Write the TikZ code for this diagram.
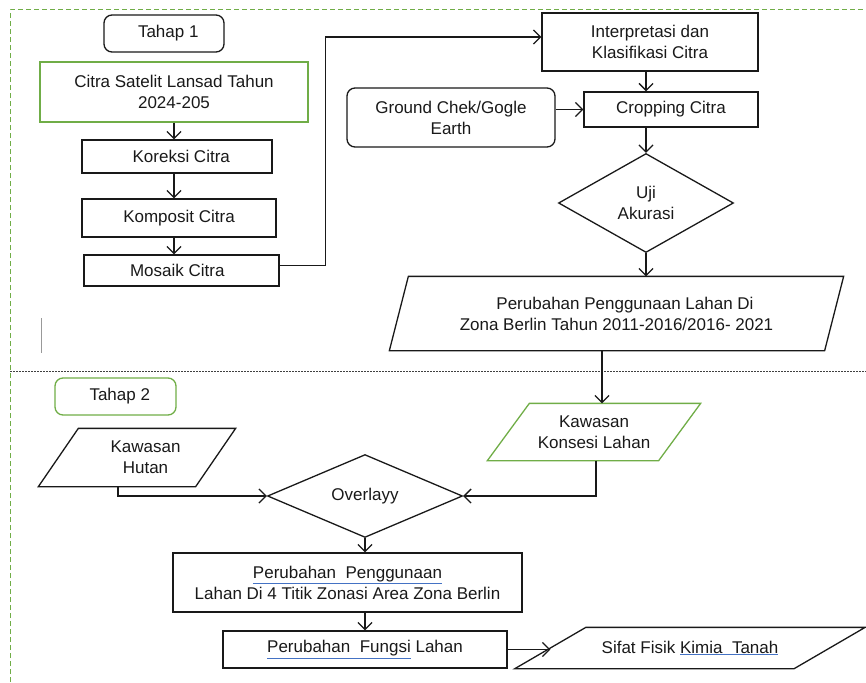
\documentclass[tikz,border=0pt]{standalone}
\usepackage{fontspec}
\setmainfont{Liberation Sans}
\usetikzlibrary{shapes.geometric,arrows.meta}
\definecolor{boxgreen}{RGB}{112,173,71}
\definecolor{spellblue}{RGB}{68,114,196}
\tikzstyle{flow-box} = [draw=black!90, line width=1.3pt, rectangle, inner sep=2pt,
    align=center, text=black!90, font=\fontsize{17}{21}\selectfont]
\tikzstyle{green-box} = [flow-box, draw=boxgreen]
\tikzstyle{round-box} = [flow-box, rounded corners=8pt]
\tikzstyle{data-box} = [flow-box, draw=none]
\tikzstyle{check-box} = [flow-box, diamond, inner sep=0pt]
\tikzstyle{flow-arrow} = [line width=1.3pt, draw=black!90, -{Straight Barb[length=7pt,width=14pt]}]
\newcommand{\spellmark}[1]{{\color{spellblue}\underline{\color{black!90}#1}}}
\newcommand{\slantframe}[3]{\draw[line width=1.3pt, draw=#3]
    ([xshift=#2]#1.north west) -- ([xshift=#2]#1.north east) --
    ([xshift=-#2]#1.south east) -- ([xshift=-#2]#1.south west) -- cycle;}

\begin{document}
\begin{tikzpicture}[x=1pt, y=-1pt]
\useasboundingbox (0,0) rectangle (866,682);
% frames
\draw[boxgreen, line width=1pt, dash pattern=on 5pt off 3pt] (10,682) -- (10,10) -- (866,10);
\draw[black!75, line width=1pt, dash pattern=on 2pt off 1pt] (10,371) -- (866,371);
\draw[black!40, line width=1pt] (41,318) -- (41,353);

% tahap 1
\node[round-box, minimum width=120pt, minimum height=37pt] (tahap-a) at (164,33.5) {\enspace Tahap 1};
\node[green-box, minimum width=268pt, minimum height=60pt] (citra) at (174,92) {Citra Satelit Lansad Tahun\\2024-205};
\node[flow-box, minimum width=190pt, minimum height=33pt] (koreksi) at (177,156.5) {\enspace Koreksi Citra};
\node[flow-box, minimum width=194pt, minimum height=38pt] (komposit) at (179,218) {Komposit Citra};
\node[flow-box, minimum width=195pt, minimum height=31pt] (mosaik) at (181.5,270.5) {Mosaik Citra\enspace};
\node[flow-box, minimum width=216pt, minimum height=58pt] (interp) at (650,42) {Interpretasi dan\\Klasifikasi Citra};
\node[flow-box, minimum width=174pt, minimum height=35pt] (crop) at (671,109.5) {Cropping Citra};
\node[round-box, minimum width=208pt, minimum height=59pt] (ground) at (451,117.5) {Ground Chek/Gogle\\Earth};
\node[check-box, minimum width=175pt, minimum height=99pt] (uji) at (646,203) {Uji\\Akurasi};
\node[data-box, minimum width=434pt, minimum height=73pt] (perubahan) at (616.5,313.5) {\quad Perubahan Penggunaan Lahan Di\\Zona Berlin Tahun 2011-2016/2016- 2021};
\slantframe{perubahan}{9.5pt}{black!90}

\draw[flow-arrow] (citra.south) -- (citra.south |- koreksi.north);
\draw[flow-arrow] (citra.south |- koreksi.south) -- (citra.south |- komposit.north);
\draw[flow-arrow] (citra.south |- komposit.south) -- (citra.south |- mosaik.north);
\draw[flow-arrow] ([yshift=5pt]mosaik.east) -- ++(46,0) |- ([yshift=5pt]interp.west);
\draw[flow-arrow] (uji.north |- interp.south) -- (uji.north |- crop.north);
\draw[flow-arrow] (crop.west -| ground.east) -- (crop.west);
\draw[flow-arrow] (uji.north |- crop.south) -- (uji.north);
\draw[flow-arrow] (uji.south) -- (uji.south |- perubahan.north);

% tahap 2
\node[round-box, draw=boxgreen, minimum width=121pt, minimum height=37pt] (tahap-b) at (115.5,396.5) {\enspace Tahap 2};
\node[data-box, minimum width=156pt, minimum height=57pt] (hutan) at (137,457.5) {\quad Kawasan\\\quad Hutan};
\slantframe{hutan}{20pt}{black!90}
\node[data-box, minimum width=170pt, minimum height=56pt] (konsesi) at (594,432) {Kawasan\\Konsesi Lahan};
\slantframe{konsesi}{21pt}{boxgreen}
\node[check-box, minimum width=195pt, minimum height=72pt] (overlay) at (365,496) {Overlayy};
\node[flow-box, minimum width=349pt, minimum height=59pt] (ppg) at (347.5,582.5) {\spellmark{Perubahan\ \ Penggunaan}\\Lahan Di 4 Titik Zonasi Area Zona Berlin};
\node[flow-box, minimum width=284pt, minimum height=37pt] (pfl) at (365,649.5) {\spellmark{Perubahan\ \ Fungsi} Lahan};
\node[data-box, minimum width=278pt, minimum height=40pt] (sifat) at (690,648) {Sifat Fisik \spellmark{Kimia\ \ Tanah}};
\slantframe{sifat}{35.5pt}{black!90}

\draw[flow-arrow] ([xshift=-14.5pt]perubahan.south) -- ([xshift=8pt]konsesi.north);
\draw[flow-arrow] ([xshift=-19pt]hutan.south) |- (overlay.west);
\draw[flow-arrow] ([xshift=2pt]konsesi.south) |- (overlay.east);
\draw[flow-arrow] (overlay.south) -- (overlay.south |- ppg.north);
\draw[flow-arrow] (overlay.south |- ppg.south) -- (overlay.south |- pfl.north);
\draw[flow-arrow] (pfl.east) -- (pfl.east -| sifat.west);
\end{tikzpicture}
\end{document}
